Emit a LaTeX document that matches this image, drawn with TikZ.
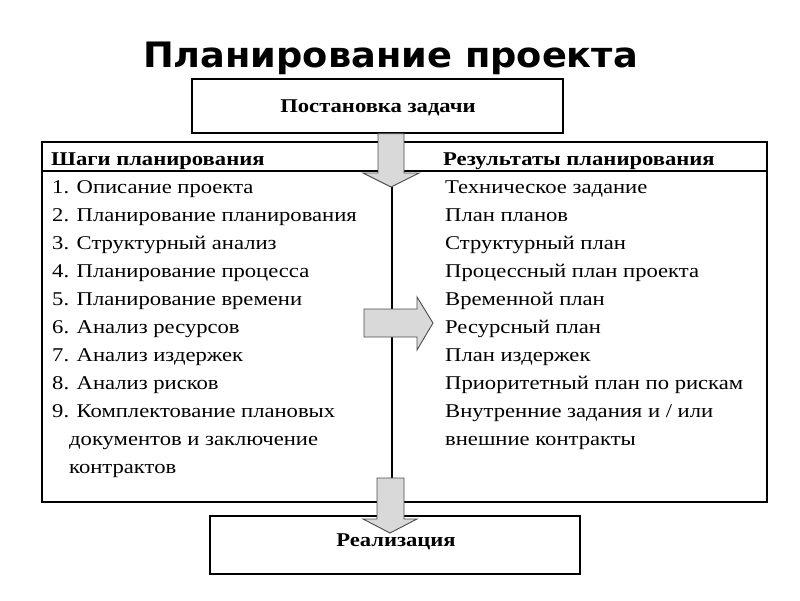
\documentclass[tikz,border=0pt]{standalone}
\usepackage{fontspec}
\setmainfont{Liberation Serif}[FakeStretch=1.16]
\newfontfamily\titlefont{DejaVu Sans}[FakeStretch=1.05]
\begin{document}
\begin{tikzpicture}[x=1pt,y=-1pt,
  box/.style={draw=black,line width=1.3pt,fill=white,inner sep=0pt},
  tbl/.style={draw=black,line width=1.3pt},
  garrow/.style={fill=gray!30,draw=gray!60!black,line width=0.9pt,line join=miter},
  itm/.style={anchor=base west,inner sep=0pt,font=\fontsize{19.5}{21}\selectfont},
  hdr/.style={anchor=base west,inner sep=0pt,font=\fontsize{19.5}{21}\selectfont\bfseries}]
\useasboundingbox (0,0) rectangle (800,600);
\node[anchor=base,inner sep=0pt,font=\titlefont\fontsize{35}{38}\selectfont\bfseries] (title) at (390.5,67) {Планирование проекта};
% table
\coordinate (tl) at (42,142);
\coordinate (br) at (767,502);
\draw[tbl] (tl) rectangle (br);
\draw[tbl] (42,171) -- (767,171);
\draw[line width=1.1pt] (392,187) -- (392,478);
% boxes
\node[box,minimum width=371pt,minimum height=54pt] (task) at (377.5,106) {};
\node[anchor=base,inner sep=0pt,font=\fontsize{19.5}{21}\selectfont\bfseries] at (378,112) {Постановка задачи};
\node[box,minimum width=370pt,minimum height=58pt] (real) at (395,545) {};
\node[anchor=base,inner sep=0pt,font=\fontsize{19.5}{21}\selectfont\bfseries] at (396,546) {Реализация};
% arrows
\draw[garrow] (task.south -| 378,0) -- (378,173) -- (363,173) -- (391,187) -- (419,173) -- (404,173) -- (task.south -| 404,0) -- cycle;
\draw[garrow] (364,309) -- (417,309) -- (417,297) -- (433,323) -- (417,350) -- (417,337) -- (364,337) -- cycle;
\draw[garrow] (377,478) -- (377,519) -- (363,519) -- (390,533) -- (417,519) -- (404,519) -- (404,478) -- cycle;
% headers
\node[hdr] (h1) at (51,165) {Шаги планирования};
\node[hdr] (h2) at (443,165) {Результаты планирования};
% left items
\node[itm] at (52,193) {1. Описание проекта};
\node[itm] at (52,221) {2. Планирование планирования};
\node[itm] at (52,249) {3. Структурный анализ};
\node[itm] at (52,277) {4. Планирование процесса};
\node[itm] at (52,305) {5. Планирование времени};
\node[itm] at (52,333) {6. Анализ ресурсов};
\node[itm] at (52,361) {7. Анализ издержек};
\node[itm] at (52,389) {8. Анализ рисков};
\node[itm] at (52,417) {9. Комплектование плановых};
\node[itm] at (69,445) {документов и заключение};
\node[itm] at (69,473) {контрактов};
% right items
\node[itm] at (445,193) {Техническое задание};
\node[itm] at (445,221) {План планов};
\node[itm] at (445,249) {Структурный план};
\node[itm] at (445,277) {Процессный план проекта};
\node[itm] at (445,305) {Временной план};
\node[itm] at (445,333) {Ресурсный план};
\node[itm] at (445,361) {План издержек};
\node[itm] at (445,389) {Приоритетный план по рискам};
\node[itm] at (445,417) {Внутренние задания и / или};
\node[itm] at (445,445) {внешние контракты};
\end{tikzpicture}
\end{document}
